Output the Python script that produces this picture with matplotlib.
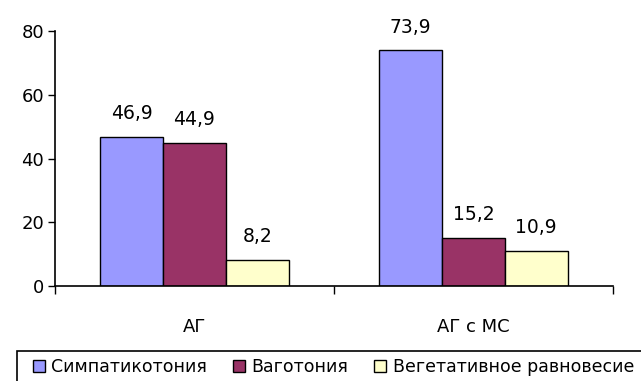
import matplotlib
matplotlib.use('Agg')
import matplotlib.pyplot as plt
from matplotlib.patches import Rectangle
import numpy as np

# data
groups = ['АГ', 'АГ с МС']
series = ['Симпатикотония', 'Ваготония', 'Вегетативное равновесие']
simpat = [46.9, 73.9]
vagot = [44.9, 15.2]
ravnov = [8.2, 10.9]
colors = ['#9999FF', '#993366', '#FFFFCC']

plt.rcParams['font.family'] = 'DejaVu Sans'

fig = plt.figure(figsize=(6.41, 3.81), dpi=100)
ax = fig.add_axes([55 / 641, 1 - 286 / 381, 558 / 641, 255 / 381])

x = np.arange(len(groups))
w = 0.225
for i, (vals, name) in enumerate(zip([simpat, vagot, ravnov], series)):
    bars = ax.bar(x + (i - 1) * w, vals, w, color=colors[i], edgecolor='black',
                  linewidth=1.0, label=name)
    for b, v in zip(bars, vals):
        ax.annotate(('%.1f' % v).replace('.', ','),
                    (b.get_x() + b.get_width() / 2, b.get_height()),
                    xytext=(0, 10), textcoords='offset points',
                    ha='center', va='bottom', fontsize=13.5)

ax.set_xlim(-0.5, 1.5)
ax.set_ylim(0, 80)
ax.set_yticks([0, 20, 40, 60, 80])
ax.tick_params(axis='y', direction='out', length=5, width=1, labelsize=13, pad=3)

# boundary ticks on x, labels at group centres
ax.set_xticks([-0.5, 0.5, 1.5])
ax.set_xticklabels([])
ax.tick_params(axis='x', which='major', direction='out', length=6, width=1)
ax.set_xticks(x, minor=True)
ax.set_xticklabels(groups, minor=True)
ax.tick_params(axis='x', which='minor', length=0, pad=23, labelsize=13)

for s in ['top', 'right']:
    ax.spines[s].set_visible(False)
for s in ['left', 'bottom']:
    ax.spines[s].set_linewidth(1.2)

leg = fig.legend(loc='center left', bbox_to_anchor=(33 / 641, 1 - 367 / 381),
                 ncol=3, frameon=False, fontsize=12.5,
                 handlelength=0.7, handleheight=0.7, handletextpad=0.35,
                 columnspacing=1.5, borderpad=0, borderaxespad=0)
# legend frame runs past the right and bottom edges in the original
fig.patches.append(Rectangle((17 / 641, -0.2), 1.0, 0.2 + 1 - 351 / 381,
                             transform=fig.transFigure, fill=False,
                             edgecolor='black', linewidth=1.2))

fig.savefig('out.png', dpi=100)
